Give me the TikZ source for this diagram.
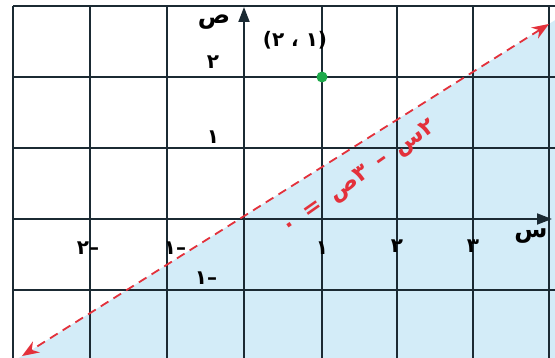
\documentclass[tikz,border=0pt]{standalone}
\usepackage{fontspec}
\usetikzlibrary{arrows.meta}
\TeXXeTstate=1
\newfontfamily\arabicfont[Script=Arabic]{DejaVu Sans}
\definecolor{gridc}{HTML}{1B2A33}
\definecolor{fillc}{HTML}{D3ECF8}
\definecolor{redc}{HTML}{E3313B}
\definecolor{greenc}{HTML}{1EAA4B}
\begin{document}
\begin{tikzpicture}[x=1pt,y=-1pt,
  gridline/.style={draw=gridc, line width=1.8pt},
  axisline/.style={draw=gridc, line width=1.8pt, -{Triangle[length=15pt,width=11pt]}},
  lbl/.style={font=\arabicfont\bfseries\fontsize{20}{20}\selectfont, text=black, inner sep=0pt},
  axlbl/.style={font=\arabicfont\bfseries\fontsize{24}{24}\selectfont, text=black, inner sep=0pt},
  eqlbl/.style={font=\arabicfont\bfseries\fontsize{23}{23}\selectfont, text=redc, inner sep=0pt},
  redline/.style={draw=redc, line width=1.8pt, dash pattern=on 9pt off 6pt,
    {Stealth[length=17pt,width=13pt]}-{Stealth[length=17pt,width=13pt]}}]
\useasboundingbox (0,0) rectangle (555,358);
\fill[white] (0,0) rectangle (555,358);
% shaded half-plane
\fill[fillc] (18.8,358) -- (555,20.2) -- (555,358) -- cycle;
% grid
\foreach \gx in {13,90,167,322,397,473,549}
  \draw[gridline] (\gx,6) -- (\gx,358);
\foreach \gy in {6,77,148,290}
  \draw[gridline] (13,\gy) -- (555,\gy);
% axes
\coordinate (xs) at (13,219);
\coordinate (xe) at (552,219);
\coordinate (ys) at (244,358);
\coordinate (ye) at (244,7);
\draw[axisline] (xs) -- (xe);
\draw[axisline] (ys) -- (ye);
% boundary line
\coordinate (la) at (22,356);
\coordinate (lb) at (549,24);
\draw[redline] (lb) -- (la);
% point
\fill[greenc] (322,77) circle (5.5);
% labels
\node[axlbl] (ylab) at (214,22) {\beginR ص\endR};
\node[axlbl] (xlab) at (531,236) {\beginR س\endR};
\node[lbl] (pt) at (295,40) {\beginR (١ ، ٢)\endR};
\node[lbl] (y2) at (213,62) {٢};
\node[lbl] (y1) at (213,137) {١};
\node[lbl] (ym1) at (206,278) {–١};
\node[lbl] (xm2) at (88,248) {–٢};
\node[lbl] (xm1) at (175,248) {–١};
\node[lbl] (x1) at (322,248) {١};
\node[lbl] (x2) at (397,246) {٢};
\node[lbl] (x3) at (473,246) {٣};
\node[eqlbl, rotate=35] (eq) at (360,178) {\beginR ٢س\, – \,٣ص\, = \,٠\endR};
\end{tikzpicture}
\end{document}
